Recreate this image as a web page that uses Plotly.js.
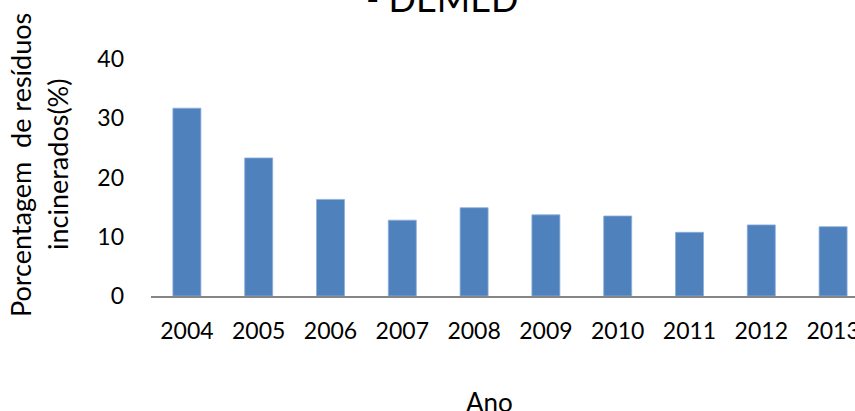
<!DOCTYPE html>
<html>
<head>
<meta charset="utf-8">
<script src="https://cdn.plot.ly/plotly-3.0.1.min.js"></script>
<style>
html, body { margin:0; padding:0; overflow:hidden; background:#fff; width:855px; height:411px; }
#chart { width:880px; height:411px; }
</style>
</head>
<body>
<div id="chart"></div>
<script>
const anos = ['2004','2005','2006','2007','2008','2009','2010','2011','2012','2013'];
const porcentagem = [31.7, 23.3, 16.3, 12.8, 14.9, 13.7, 13.5, 10.75, 12.0, 11.7];
const yTicks = [0, 10, 20, 30, 40];
const tituloGrafico = '- DEMED';
const tituloX = 'Ano';
const tituloY1 = 'Porcentagem  de resíduos';
const tituloY2 = 'incinerados(%)';

const fontFam = 'Lato, "Open Sans", sans-serif';

const data = [{
  type: 'bar',
  x: anos,
  y: porcentagem,
  marker: { color: '#4F81BD', line: { color: '#8eaedb', width: 0.8 } },
  hoverinfo: 'x+y'
}];

const layout = {
  width: 880,
  height: 411,
  autosize: false,
  margin: { l: 151, r: 11, t: 59, b: 115 },
  paper_bgcolor: '#ffffff',
  plot_bgcolor: '#ffffff',
  showlegend: false,
  bargap: 0.61,
  font: { family: fontFam, size: 23, color: '#000' },
  xaxis: {
    type: 'category',
    range: [-0.5, 9.5],
    showline: true,
    linecolor: '#868686',
    linewidth: 2,
    ticks: '',
    showgrid: false,
    zeroline: false,
    ticklabelstandoff: 13,
    tickfont: { family: fontFam, size: 23, color: '#000' }
  },
  yaxis: {
    range: [0, 40],
    tickvals: yTicks,
    ticktext: yTicks.map(String),
    showline: false,
    showgrid: false,
    zeroline: false,
    ticks: '',
    ticklabelstandoff: 26,
    tickfont: { family: fontFam, size: 23, color: '#000' }
  },
  annotations: [
    { text: tituloGrafico, xref: 'paper', yref: 'paper', x: (442-151)/718, y: (296+2)/237,
      xanchor: 'center', yanchor: 'middle', showarrow: false,
      font: { family: fontFam, size: 36, color: '#000' } },
    { text: tituloX, xref: 'paper', yref: 'paper', x: (489-151)/718, y: (296-402)/237,
      xanchor: 'center', yanchor: 'middle', showarrow: false,
      font: { family: fontFam, size: 26, color: '#000' } },
    { text: tituloY1, xref: 'paper', yref: 'paper', x: (20-151)/718, y: (296-165)/237,
      xanchor: 'center', yanchor: 'middle', showarrow: false, textangle: -90,
      font: { family: fontFam, size: 27, color: '#000' } },
    { text: tituloY2, xref: 'paper', yref: 'paper', x: (57-151)/718, y: (296-165)/237,
      xanchor: 'center', yanchor: 'middle', showarrow: false, textangle: -90,
      font: { family: fontFam, size: 27, color: '#000' } }
  ]
};

Plotly.newPlot('chart', data, layout, { displayModeBar: false, staticPlot: true });
</script>
</body>
</html>
